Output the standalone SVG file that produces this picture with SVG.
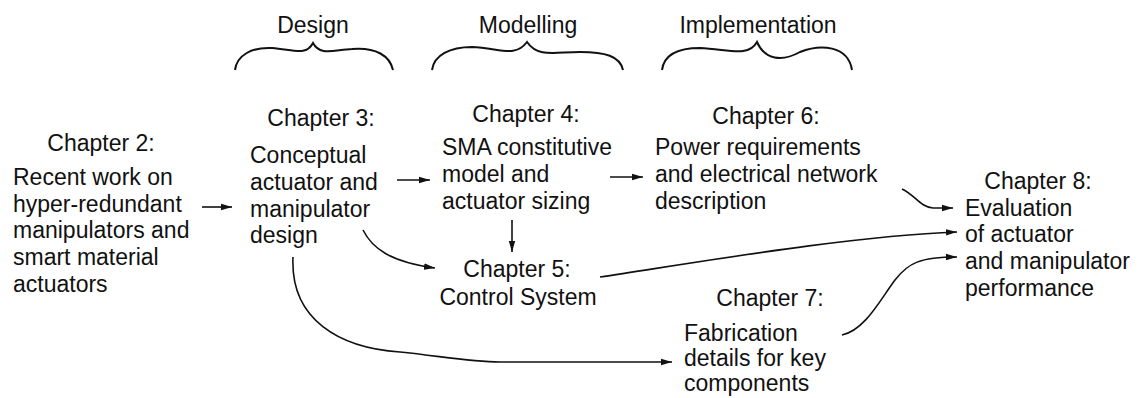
<svg xmlns="http://www.w3.org/2000/svg" width="1146" height="398" viewBox="0 0 1146 398">
<style>
text{font-family:"Liberation Sans",Arial,sans-serif;font-size:23px;fill:#111}
.c{text-anchor:middle}
.brace{fill:none;stroke:#111;stroke-width:2}
.conn{fill:none;stroke:#111;stroke-width:1.6}
</style>
<defs>
<marker id="ah" markerUnits="userSpaceOnUse" markerWidth="12" markerHeight="8" refX="11" refY="4" orient="auto">
<path d="M0,0.8 L11,4 L0,7.2 z" fill="#111"/>
</marker>
</defs>
<rect width="1146" height="398" fill="#fff"/>
<g id="phases">
<text class="c" x="313" y="33">Design</text>
<path class="brace" d="M235,70 C237,55 252,47 272,48 C295,50 306,56 313,43 C320,56 333,50 352,49 C376,47 390,56 393,70"/>
<text class="c" x="528" y="33">Modelling</text>
<path class="brace" d="M432,70 C434,55 450,47 472,47 C500,48 515,58 527,42 C538,58 555,52 580,52 C605,52 620,56 623,70"/>
<text class="c" x="758" y="33">Implementation</text>
<path class="brace" d="M662,70 C664,55 678,48 700,48 C728,49 748,58 757,42 C765,60 782,62 800,52 C820,44 848,45 852,70"/>
</g>
<g id="ch2">
<text class="c" x="101" y="151">Chapter 2:</text>
<text x="13" y="185">Recent work on</text>
<text x="13" y="212">hyper-redundant</text>
<text x="13" y="238">manipulators and</text>
<text x="13" y="265">smart material</text>
<text x="13" y="292">actuators</text>
</g>
<g id="ch3">
<text class="c" x="321" y="126">Chapter 3:</text>
<text x="250" y="163">Conceptual</text>
<text x="250" y="190">actuator and</text>
<text x="250" y="217">manipulator</text>
<text x="250" y="243">design</text>
</g>
<g id="ch4">
<text class="c" x="526" y="122">Chapter 4:</text>
<text x="442" y="155">SMA constitutive</text>
<text x="442" y="182">model and</text>
<text x="442" y="209">actuator sizing</text>
</g>
<g id="ch5">
<text class="c" x="517" y="277">Chapter 5:</text>
<text class="c" x="518" y="305">Control System</text>
</g>
<g id="ch6">
<text class="c" x="766" y="124">Chapter 6:</text>
<text x="655" y="155">Power requirements</text>
<text x="655" y="182">and electrical network</text>
<text x="655" y="209">description</text>
</g>
<g id="ch7">
<text class="c" x="770" y="306">Chapter 7:</text>
<text x="684" y="341">Fabrication</text>
<text x="684" y="366">details for key</text>
<text x="684" y="391">components</text>
</g>
<g id="ch8">
<text class="c" x="1038" y="189">Chapter 8:</text>
<text x="965" y="216">Evaluation</text>
<text x="965" y="242">of actuator</text>
<text x="965" y="269">and manipulator</text>
<text x="965" y="296">performance</text>
</g>
<g id="connectors">
<path class="conn" marker-end="url(#ah)" d="M202,207 L232,207"/>
<path class="conn" marker-end="url(#ah)" d="M397,180 L430,180"/>
<path class="conn" marker-end="url(#ah)" d="M610,177 L643,177"/>
<path class="conn" marker-end="url(#ah)" d="M512,220 L512,252"/>
<path class="conn" marker-end="url(#ah)" d="M363,230 C372,248 390,262 435,268"/>
<path class="conn" marker-end="url(#ah)" d="M293,257 C290,320 340,348 400,352 C440,356 470,362 500,362 L672,362"/>
<path class="conn" marker-end="url(#ah)" d="M902,189 C915,195 920,207 933,208 L953,208"/>
<path class="conn" marker-end="url(#ah)" d="M600,277 C700,262 850,236 957,232"/>
<path class="conn" marker-end="url(#ah)" d="M842,335 C865,330 880,300 895,280 C908,263 920,257 957,257"/>
</g>
</svg>
